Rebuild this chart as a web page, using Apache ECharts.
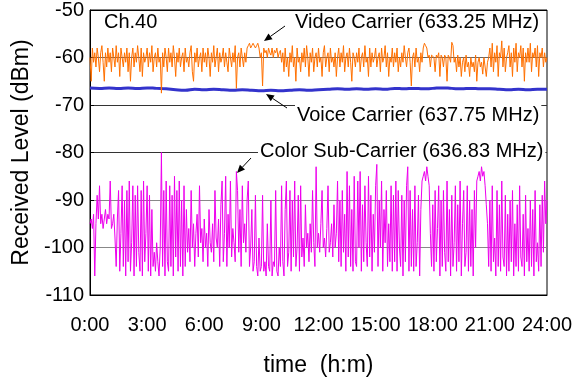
<!DOCTYPE html>
<html>
<head>
    <meta charset="utf-8">
    <title>Ch.40 received level</title>
    <script src="https://cdn.jsdelivr.net/npm/echarts@6/dist/echarts.min.js"></script>
    <style>
        html, body { margin: 0; padding: 0; background: #fff; }
        #main { width: 586px; height: 382px; }
    </style>
</head>
<body>
    <div id="main"></div>
    <script type="text/javascript">
        // x axis ticks (hours)
        var hourTicks = [0, 3, 6, 9, 12, 15, 18, 21, 24];

        // Video carrier 633.25 MHz, one value every 3.75 min (16 per hour)
        var video = [
            -60, -65, -58, -61, -59, -62, -58, -60, -63, -59, -57.5, -61, -65, -59, -62, -58,
            -61, -59, -63, -58, -60, -62, -57.5, -61, -59, -64, -58, -60, -62, -59, -61, -58,
            -63, -59, -65, -60, -58, -62, -59, -61, -57.5, -60, -63, -58, -64, -59, -61, -60,
            -58, -62, -59, -61, -57.5, -63, -60, -59, -62, -58, -61, -60, -67.5, -59, -62, -58,
            -60, -63, -58, -61, -59, -62, -57.5, -60, -64, -59, -61, -58, -62, -60, -59, -63,
            -58, -61, -60, -62, -59, -57.5, -63, -65, -59, -61, -58, -62, -60, -59, -63, -58,
            -61, -59, -62, -58, -60, -64, -59, -61, -57.5, -62, -60, -58, -63, -59, -61, -60,
            -58, -62, -59, -61, -63, -58, -60, -62, -59, -61, -57.5, -66.5, -60, -59, -62, -58,
            -60, -62, -59, -61, -58, -57.5, -57, -58, -57.5, -57, -56.8, -58, -57.5, -57, -58, -60,
            -59, -66, -58, -59, -58.5, -60, -58, -59, -59.5, -58, -60, -58.5, -59, -58, -60, -59,
            -58.5, -61, -59, -63, -58, -62, -60, -64, -59, -61, -57.5, -62, -60, -65, -58, -61,
            -60, -63, -59, -61, -58, -62, -57.5, -60, -64, -59, -61, -58, -63, -60, -59, -62,
            -58, -61, -60, -64, -59, -57.5, -62, -60, -59, -63, -58, -61, -60, -62, -59, -64,
            -60, -58, -62, -59, -61, -57.5, -63, -60, -59, -62, -58, -61, -65, -59, -60, -62,
            -59, -61, -58, -63, -60, -59, -62, -57.5, -61, -60, -64, -58, -62, -59, -61, -60,
            -58, -62, -60, -59, -63, -58, -61, -60, -57.5, -62, -59, -64, -60, -61, -58, -62,
            -59, -61, -58, -63, -60, -62, -59, -61, -57.5, -60, -62, -59, -58, -61, -66, -60,
            -59, -62, -58, -61, -60, -63, -59, -61, -58, -57, -57.5, -58, -60, -59.5, -62, -59.5,
            -59.5, -60, -63, -59.5, -60, -59, -64, -59.5, -60, -62, -59.5, -60, -65, -59.5, -60, -61,
            -56.8, -57.5, -61, -60, -63, -59.5, -62, -60, -64, -61, -60, -63, -59.5, -62, -61, -64,
            -60, -62, -61, -63, -59.5, -65, -61, -60, -62, -61, -63.5, -60, -62, -64, -61, -60,
            -58, -62, -57, -63, -59, -61, -57.5, -64, -59, -60, -56.5, -62, -58, -63, -60, -59,
            -57.5, -62, -59, -64, -58, -61, -57, -63, -59, -60, -57.5, -62, -58, -65, -59, -61,
            -58, -61, -57, -63, -59, -60, -58, -62, -57.5, -64, -59, -60, -58, -62, -59, -61,
            -60
        ];

        // Voice carrier 637.75 MHz, one value every 30 min
        var voice = [
            -66.4, -66.5, -66.4, -66.5, -66.4, -66.5,
            -66.4, -66.5, -66.6, -66.8, -66.9, -66.7,
            -66.8, -66.7, -66.8, -66.9, -66.8, -66.9,
            -67.0, -66.9, -67.0, -66.9, -66.8, -66.9,
            -66.8, -66.7, -66.6, -66.7, -66.6, -66.7,
            -66.6, -66.7, -66.5, -66.6, -66.5, -66.6,
            -66.5, -66.4, -66.5, -66.6, -66.5, -66.6,
            -66.6, -66.7, -66.8, -66.7, -66.8, -66.7, -66.7
        ];

        // Color sub-carrier 636.83 MHz, one value every 3.75 min (16 per hour)
        var color = [
            -95, -94, -96, -93, -106, -95, -89, -94, -87, -95, -93, -96, -94, -92, -95, -93,
            -94, -86, -96, -95, -93, -98, -104, -94, -88, -105, -97, -87, -104, -90, -106, -88,
            -103, -86, -105, -99, -87, -106, -89, -104, -87, -101, -105, -88, -106, -86, -103, -97,
            -87, -105, -89, -106, -92, -104, -101, -105, -99, -103, -106, -100, -80, -104, -88, -106,
            -86, -103, -105, -87, -104, -89, -106, -85, -102, -88, -105, -86, -104, -90, -106, -87,
            -104, -92, -101, -96, -103, -88, -100, -95, -104, -97, -93, -102, -87, -99, -96, -103,
            -94, -100, -97, -104, -92, -99, -101, -95, -103, -88, -98, -100, -94, -104, -91, -86,
            -103, -97, -85, -104, -93, -100, -86, -102, -96, -99, -103, -84, -88, -101, -92, -104,
            -87, -99, -95, -101, -90, -86, -104, -100, -92, -105, -103, -89, -104, -106, -98, -105,
            -104, -89, -105, -103, -106, -95, -104, -105, -90, -106, -103, -104, -88, -105, -106, -100,
            -104, -87, -103, -106, -92, -86, -104, -101, -88, -105, -90, -102, -86, -104, -100, -89,
            -105, -87, -102, -98, -104, -91, -100, -97, -103, -95, -101, -88, -99, -104, -83, -100,
            -97, -101, -95, -88, -100, -98, -102, -96, -87, -101, -99, -95, -102, -91, -100, -97,
            -86, -103, -90, -104, -88, -101, -93, -105, -84, -102, -87, -104, -92, -105, -85, -103,
            -104, -86, -100, -84, -105, -91, -103, -87, -99, -104, -85, -102, -89, -105, -93, -101,
            -87, -82.5, -104, -90, -100, -86, -105, -92, -99, -88, -104, -95, -103, -87, -105, -89,
            -103, -86, -105, -88, -100, -104, -89, -106, -90, -103, -87, -83, -105, -88, -104, -92,
            -105, -87, -104, -99, -89, -106, -92, -86, -85, -84, -86, -83, -85, -87, -97, -104,
            -91, -105, -88, -103, -96, -87, -106, -90, -104, -88, -101, -105, -86, -103, -92, -106,
            -89, -104, -99, -87, -105, -91, -103, -86, -106, -95, -88, -104, -101, -87, -105, -90,
            -104, -92, -106, -88, -100, -86, -85, -84, -86, -83, -85, -84, -87, -91, -95, -104,
            -90, -105, -87, -103, -98, -106, -88, -104, -91, -105, -86, -102, -104, -89, -106, -93,
            -105, -90, -103, -88, -106, -95, -104, -91, -105, -87, -102, -104, -93, -106, -89, -103,
            -96, -105, -90, -104, -92, -106, -88, -103, -99, -105, -91, -104, -89, -101, -86, -95,
            -90
        ];

        function toPairs(values) {
            var step = 24 / (values.length - 1);
            return values.map(function (v, i) { return [i * step, v]; });
        }

        // small arrow (line + head) for the annotations
        function arrow(x1, y1, x2, y2) {
            var a = Math.atan2(y2 - y1, x2 - x1), L = 8, W = 3.5;
            var bx = x2 - L * Math.cos(a), by = y2 - L * Math.sin(a);
            var px = -Math.sin(a) * W, py = Math.cos(a) * W;
            return [{
                type: 'line',
                shape: { x1: x1, y1: y1, x2: bx, y2: by },
                style: { stroke: '#000', lineWidth: 1 },
                z: 100
            }, {
                type: 'polygon',
                shape: { points: [[x2, y2], [bx + px, by + py], [bx - px, by - py]] },
                style: { fill: '#000' },
                z: 100
            }];
        }

        function label(text, x, y) {
            return {
                type: 'text',
                left: x,
                top: y,
                z: 100,
                style: {
                    text: text,
                    fill: '#000',
                    font: '20px "Liberation Sans", Arial, sans-serif',
                    backgroundColor: '#fff',
                    padding: [0, 2]
                }
            };
        }

        var myChart = echarts.init(document.getElementById('main'), null, { renderer: 'canvas' });

        var gfx = [
            label('Ch.40', 102, 12),
            label('Video Carrier (633.25 MHz)', 293, 12),
            label('Voice Carrier (637.75 MHz)', 295, 105),
            label('Color Sub-Carrier (636.83 MHz)', 258, 141)
        ].concat(arrow(285, 26, 264, 41))
         .concat(arrow(287, 108, 266, 94))
         .concat(arrow(251, 158, 237, 173));

        var option = {
            animation: false,
            backgroundColor: '#fff',
            textStyle: { fontFamily: '"Liberation Sans", Arial, sans-serif' },
            grid: {
                left: 90, right: 39, top: 9, bottom: 85,
                show: true, borderColor: '#000', borderWidth: 1,
                backgroundColor: 'transparent'
            },
            xAxis: {
                type: 'value',
                min: 0, max: 24, interval: 3,
                name: 'time  (h:m)',
                nameLocation: 'middle',
                nameGap: 59,
                nameTextStyle: { fontSize: 23, color: '#000' },
                axisLine: { show: true, lineStyle: { color: '#000' } },
                axisTick: { show: false },
                axisLabel: {
                    fontSize: 20, color: '#000', margin: 20,
                    formatter: function (v) { return hourTicks.indexOf(v) >= 0 ? v + ':00' : ''; }
                },
                splitLine: { show: false }
            },
            yAxis: {
                type: 'value',
                min: -110, max: -50, interval: 10,
                name: 'Received Level (dBm)',
                nameLocation: 'middle',
                nameGap: 57,
                nameTextStyle: { fontSize: 23, color: '#000' },
                axisLine: { show: true, lineStyle: { color: '#000' } },
                axisTick: { show: true, inside: true, length: 4, lineStyle: { color: '#000' } },
                axisLabel: { fontSize: 20, color: '#000', margin: 6 },
                splitLine: {
                    show: true,
                    lineStyle: {
                        color: ['#000', '#888', '#888', '#333', '#333', '#666', '#000'],
                        width: 1
                    }
                }
            },
            series: [{
                name: 'Color Sub-Carrier (636.83 MHz)',
                type: 'line',
                data: toPairs(color),
                showSymbol: false,
                lineStyle: { color: '#ee00ee', width: 1 }
            }, {
                name: 'Voice Carrier (637.75 MHz)',
                type: 'line',
                data: toPairs(voice),
                showSymbol: false,
                smooth: true,
                lineStyle: { color: '#3333cc', width: 3 }
            }, {
                name: 'Video Carrier (633.25 MHz)',
                type: 'line',
                data: toPairs(video),
                showSymbol: false,
                lineStyle: { color: '#ff7000', width: 1 }
            }],
            graphic: gfx
        };

        myChart.setOption(option);
    </script>
</body>
</html>
